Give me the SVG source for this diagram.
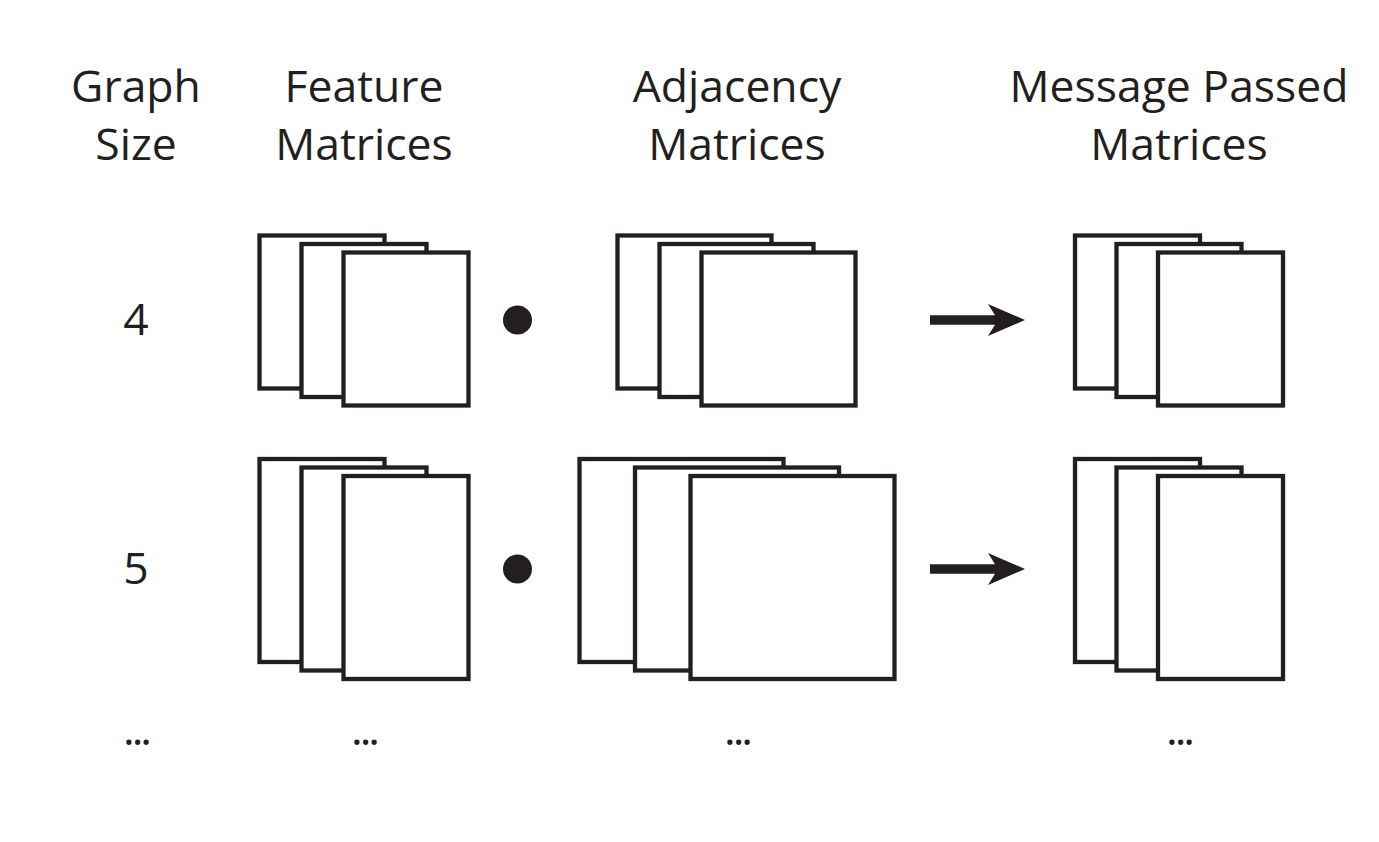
<svg xmlns="http://www.w3.org/2000/svg" width="1379" height="842" viewBox="0 0 1379 842">
<style>
.m{fill:#fff;stroke:#231f20;stroke-width:4.3}
.t{font-family:"Open Sans","Liberation Sans",sans-serif;font-size:44.5px;fill:#231f20;text-anchor:middle}
.dots{letter-spacing:-3px}
</style>
<rect width="1379" height="842" fill="#fff"/>
<g id="labels">
<text class="t" x="136" y="102">Graph</text>
<text class="t" x="136" y="160">Size</text>
<text class="t" x="364" y="102">Feature</text>
<text class="t" x="364" y="160">Matrices</text>
<text class="t" x="737" y="102">Adjacency</text>
<text class="t" x="737" y="160">Matrices</text>
<text class="t" x="1179" y="102">Message Passed</text>
<text class="t" x="1179" y="160">Matrices</text>
<text class="t" x="136" y="335">4</text>
<text class="t" x="136" y="584">5</text>
<text class="t dots" x="136" y="745">...</text>
<text class="t dots" x="364" y="745">...</text>
<text class="t dots" x="737" y="745">...</text>
<text class="t dots" x="1179" y="745">...</text>
</g>
<g id="feature-4">
<rect class="m" x="259.5" y="235.5" width="125" height="153"/>
<rect class="m" x="301.5" y="244" width="125" height="153"/>
<rect class="m" x="343.5" y="252.5" width="125" height="153"/>
</g>
<g id="adjacency-4">
<rect class="m" x="617.5" y="235.5" width="154" height="153"/>
<rect class="m" x="659.5" y="244" width="154" height="153"/>
<rect class="m" x="701.5" y="252.5" width="154" height="153"/>
</g>
<g id="message-4">
<rect class="m" x="1075" y="235.5" width="125" height="153"/>
<rect class="m" x="1116.5" y="244" width="125" height="153"/>
<rect class="m" x="1158" y="252.5" width="125" height="153"/>
</g>
<g id="feature-5">
<rect class="m" x="259.5" y="459" width="125" height="203"/>
<rect class="m" x="301.5" y="467.5" width="125" height="203"/>
<rect class="m" x="343.5" y="476" width="125" height="203"/>
</g>
<g id="adjacency-5">
<rect class="m" x="579.5" y="459" width="204" height="203"/>
<rect class="m" x="635" y="467.5" width="204" height="203"/>
<rect class="m" x="690.5" y="476" width="204" height="203"/>
</g>
<g id="message-5">
<rect class="m" x="1075" y="459" width="125" height="203"/>
<rect class="m" x="1116.5" y="467.5" width="125" height="203"/>
<rect class="m" x="1158" y="476" width="125" height="203"/>
</g>
<g id="connectors" fill="#231f20">
<circle cx="517.5" cy="320" r="14.5"/>
<circle cx="517.5" cy="569" r="14.5"/>
<path d="M930 315.2H995L988 304L1025 320L988 336L995 324.8H930Z"/>
<path d="M930 564.2H995L988 553L1025 569L988 585L995 573.8H930Z"/>
</g>
</svg>
